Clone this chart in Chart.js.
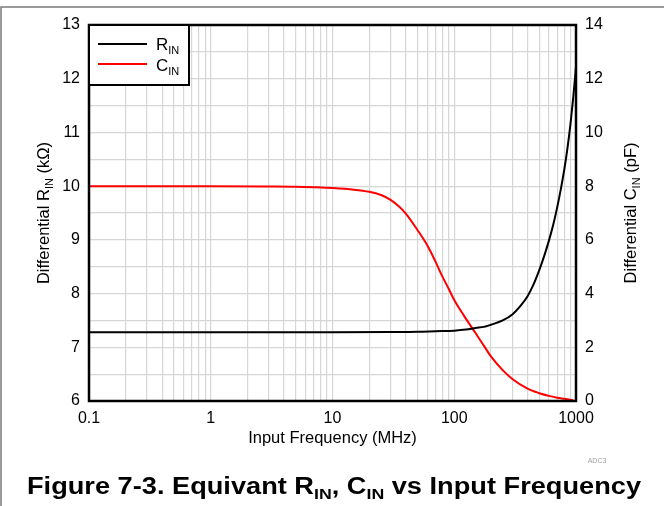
<!DOCTYPE html>
<html>
<head>
<meta charset="utf-8">
<script src="https://cdn.jsdelivr.net/npm/chart.js@4/dist/chart.umd.min.js"></script>
<style>
  body { margin: 0; background: #fff; }
  #chart { display: block; }
</style>
</head>
<body>
<canvas id="chart" width="664" height="506"></canvas>
<script>
// R_IN (kOhm) vs frequency (MHz)
const freqR = [0.1, 1, 10, 30, 50, 70, 100, 125, 150, 175, 200, 250, 300, 350, 400, 450, 500, 550, 600, 650, 700, 750, 800, 850, 900, 950, 1000];
const rin = [7.28, 7.28, 7.28, 7.285, 7.29, 7.30, 7.31, 7.33, 7.36, 7.38, 7.42, 7.50, 7.61, 7.77, 7.95, 8.18, 8.44, 8.71, 8.99, 9.28, 9.60, 9.94, 10.30, 10.70, 11.15, 11.66, 12.22];

// C_IN (pF) vs frequency (MHz)
const freqC = [0.1, 1, 3, 5, 7, 10, 15, 20, 25, 30, 35, 40, 50, 60, 70, 80, 90, 100, 120, 150, 175, 200, 250, 300, 400, 500, 600, 700, 800, 950];
const cin = [8.0, 8.0, 7.99, 7.98, 7.96, 7.93, 7.87, 7.79, 7.67, 7.49, 7.25, 6.98, 6.36, 5.80, 5.20, 4.63, 4.18, 3.76, 3.18, 2.52, 2.06, 1.66, 1.15, 0.82, 0.46, 0.29, 0.19, 0.12, 0.08, 0.03];

const xTickLabels = [0.1, 1, 10, 100, 1000];
const xMinorSteps = [1, 2, 3, 4, 5, 6, 7, 8, 9];
const leftTicks = [6, 7, 8, 9, 10, 11, 12, 13];
const rightTicks = [0, 2, 4, 6, 8, 10, 12, 14];

const FONT = "Arial, 'Liberation Sans', Helvetica, sans-serif";

// grid values for the log axis: 1..9 in every decade
const xGrid = [];
xTickLabels.slice(0, -1).forEach(d => {
  xMinorSteps.forEach(m => xGrid.push(+(d * m).toPrecision(6)));
});
xGrid.push(xTickLabels[xTickLabels.length - 1]);

// draws text with subscript pieces, parts = [[text, isSub], ...]
function drawRich(ctx, parts, x, y, size, subSize, align, bold, fitWidth) {
  const w = bold ? "bold " : "";
  let total = 0;
  parts.forEach(([t, sub]) => {
    ctx.font = w + (sub ? subSize : size) + "px " + FONT;
    total += ctx.measureText(t).width;
  });
  const sx = fitWidth ? fitWidth / total : 1;
  ctx.save();
  ctx.translate(x, y);
  ctx.scale(sx, 1);
  let cx = align === "center" ? -total / 2 : 0;
  ctx.textAlign = "left";
  ctx.textBaseline = "alphabetic";
  parts.forEach(([t, sub]) => {
    ctx.font = w + (sub ? subSize : size) + "px " + FONT;
    ctx.fillText(t, cx, sub ? size * 0.22 : 0);
    cx += ctx.measureText(t).width;
  });
  ctx.restore();
}

const decor = {
  id: "decor",
  afterDraw(chart) {
    const ctx = chart.ctx;
    const a = chart.chartArea;
    ctx.save();

    // outer frame
    ctx.strokeStyle = "#7a7a7a";
    ctx.lineWidth = 1.5;
    ctx.beginPath();
    ctx.moveTo(1, 506);
    ctx.lineTo(1, 7);
    ctx.lineTo(664, 7);
    ctx.stroke();

    // plot box
    ctx.strokeStyle = "#000";
    ctx.lineWidth = 2.5;
    ctx.strokeRect(a.left, a.top, a.right - a.left, a.bottom - a.top);

    // legend
    ctx.fillStyle = "#fff";
    ctx.fillRect(a.left, a.top, 100, 60);
    ctx.lineWidth = 2;
    ctx.strokeRect(a.left, a.top, 100, 60);
    ctx.strokeStyle = "#000";
    ctx.beginPath(); ctx.moveTo(a.left + 9, a.top + 19); ctx.lineTo(a.left + 58, a.top + 19); ctx.stroke();
    ctx.strokeStyle = "#ff0000";
    ctx.beginPath(); ctx.moveTo(a.left + 9, a.top + 39); ctx.lineTo(a.left + 58, a.top + 39); ctx.stroke();
    ctx.fillStyle = "#000";
    drawRich(ctx, [["R", false], ["IN", true]], a.left + 67, a.top + 25, 17, 11, "left");
    drawRich(ctx, [["C", false], ["IN", true]], a.left + 67, a.top + 46, 17, 11, "left");

    // axis titles
    const midY = (a.top + a.bottom) / 2;
    ctx.save();
    ctx.translate(49, midY);
    ctx.rotate(-Math.PI / 2);
    drawRich(ctx, [["Differential R", false], ["IN", true], [" (k\u03A9)", false]], 0, 0, 16.5, 11, "center");
    ctx.restore();

    ctx.save();
    ctx.translate(636, midY);
    ctx.rotate(-Math.PI / 2);
    drawRich(ctx, [["Differential C", false], ["IN", true], [" (pF)", false]], 0, 0, 16.5, 11, "center");
    ctx.restore();

    drawRich(ctx, [["Input Frequency (MHz)", false]], (a.left + a.right) / 2, 443, 16.5, 11, "center");

    // figure caption
    drawRich(ctx, [["Figure 7-3. Equivant R", false], ["IN", true], [", C", false], ["IN", true], [" vs Input Frequency", false]],
      334, 494, 23, 15, "center", true, 614);

    ctx.fillStyle = "#a0a0a0";
    ctx.font = "7px " + FONT;
    ctx.textAlign = "center";
    ctx.fillText("ADC3", 597, 463);
    ctx.restore();
  }
};

const ctx = document.getElementById("chart").getContext("2d");
const chart = new Chart(ctx, {
  type: "line",
  data: {
    datasets: [
      {
        label: "RIN",
        data: freqR.map((f, i) => ({ x: f, y: rin[i] })),
        yAxisID: "y",
        borderColor: "#000",
        borderWidth: 2,
        pointRadius: 0,
        cubicInterpolationMode: "monotone",
        fill: false
      },
      {
        label: "CIN",
        data: freqC.map((f, i) => ({ x: f, y: cin[i] })),
        yAxisID: "y2",
        borderColor: "#ff0000",
        borderWidth: 2,
        pointRadius: 0,
        cubicInterpolationMode: "monotone",
        fill: false
      }
    ]
  },
  options: {
    responsive: false,
    animation: false,
    events: [],
    layout: { padding: { top: 25, left: 0, right: 0, bottom: 0 } },
    plugins: { legend: { display: false }, tooltip: { enabled: false } },
    scales: {
      x: {
        type: "logarithmic",
        min: 0.1,
        max: 1000,
        afterBuildTicks: s => { s.ticks = xGrid.map(v => ({ value: v })); },
        afterFit: s => { s.height = 105; },
        grid: { color: "#d6d6d6", lineWidth: 1.2, drawTicks: false },
        border: { display: false },
        ticks: {
          autoSkip: false,
          maxRotation: 0,
          padding: 8,
          color: "#000",
          font: { family: FONT, size: 16 },
          callback: v => xTickLabels.includes(v) ? String(v) : ""
        }
      },
      y: {
        position: "left",
        min: leftTicks[0],
        max: leftTicks[leftTicks.length - 1],
        afterFit: s => { s.width = 89; },
        grid: { color: "#d6d6d6", lineWidth: 1.2, drawTicks: false },
        border: { display: false },
        ticks: {
          stepSize: 0.5,
          padding: 9,
          color: "#000",
          font: { family: FONT, size: 16 },
          callback: v => leftTicks.includes(v) ? String(v) : ""
        }
      },
      y2: {
        position: "right",
        min: rightTicks[0],
        max: rightTicks[rightTicks.length - 1],
        afterFit: s => { s.width = 88; },
        grid: { display: false, drawTicks: false },
        border: { display: false },
        ticks: {
          stepSize: 2,
          padding: 9,
          color: "#000",
          font: { family: FONT, size: 16 },
          callback: v => rightTicks.includes(v) ? String(v) : ""
        }
      }
    }
  },
  plugins: [decor]
});
</script>
</body>
</html>
